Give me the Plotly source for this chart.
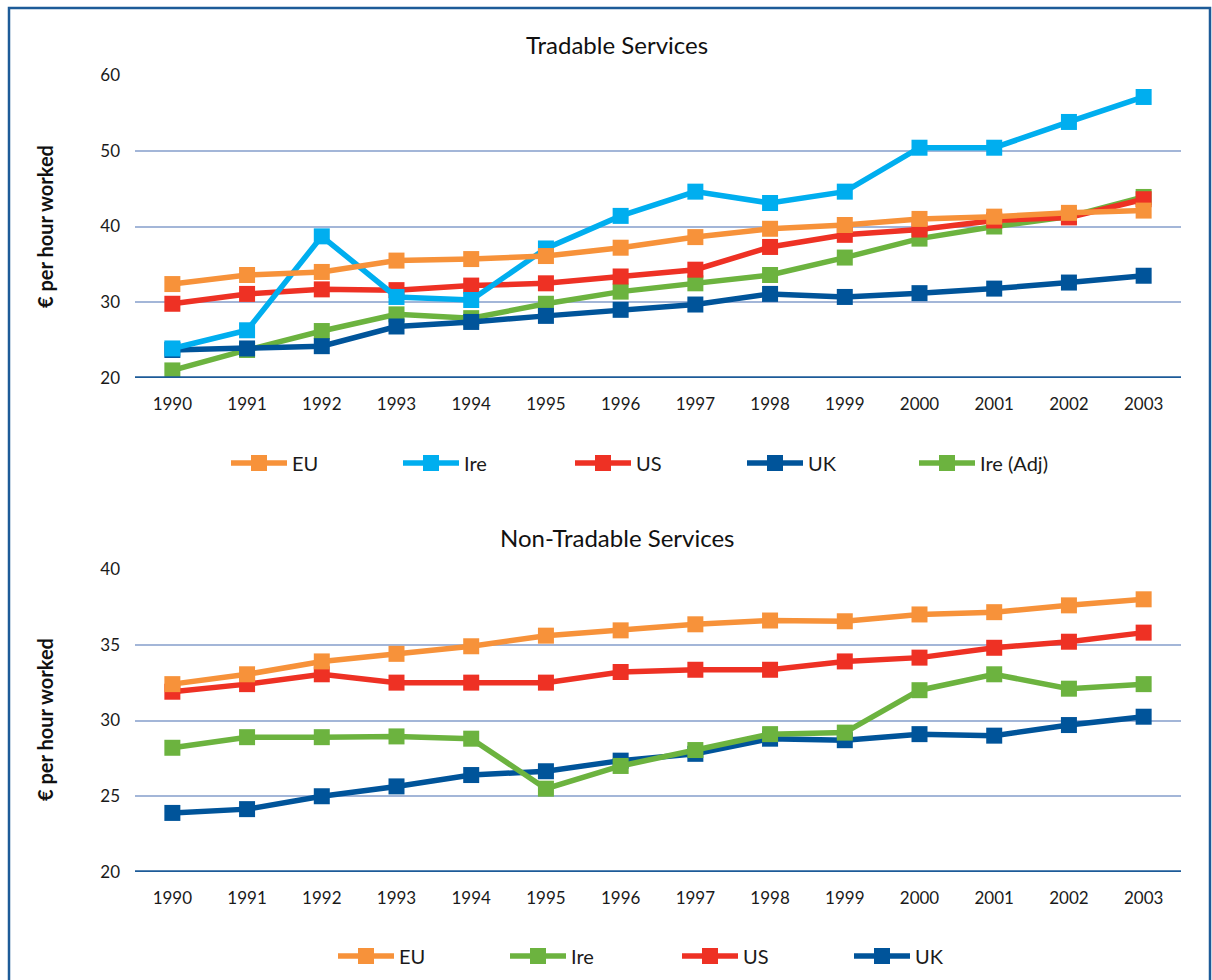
import plotly.graph_objects as go

years = list(range(1990, 2004))

# Tradable Services (€ per hour worked)
trad_eu = [32.4, 33.6, 34.0, 35.5, 35.7, 36.1, 37.2, 38.6, 39.7, 40.2, 41.0, 41.3, 41.8, 42.1]
trad_ire = [23.9, 26.3, 38.7, 30.7, 30.3, 37.1, 41.4, 44.6, 43.1, 44.6, 50.4, 50.4, 53.8, 57.1]
trad_us = [29.8, 31.1, 31.7, 31.6, 32.2, 32.5, 33.4, 34.3, 37.3, 38.9, 39.6, 40.8, 41.2, 43.6]
trad_uk = [23.7, 23.9, 24.2, 26.8, 27.4, 28.2, 29.0, 29.7, 31.1, 30.7, 31.2, 31.8, 32.6, 33.5]
trad_ire_adj = [21.0, 23.7, 26.2, 28.4, 27.9, 29.8, 31.4, 32.5, 33.6, 35.9, 38.4, 40.0, 41.3, 43.9]

# Non-Tradable Services (€ per hour worked)
non_eu = [32.4, 33.05, 33.9, 34.4, 34.9, 35.6, 35.95, 36.35, 36.6, 36.55, 37.0, 37.15, 37.6, 38.0]
non_ire = [28.2, 28.9, 28.9, 28.95, 28.8, 25.5, 27.0, 28.05, 29.1, 29.2, 32.0, 33.05, 32.1, 32.4]
non_us = [31.9, 32.4, 33.05, 32.5, 32.5, 32.5, 33.2, 33.35, 33.35, 33.9, 34.15, 34.8, 35.2, 35.8]
non_uk = [23.9, 24.15, 25.0, 25.65, 26.4, 26.65, 27.35, 27.8, 28.8, 28.7, 29.1, 29.0, 29.7, 30.25]

trad_ticks = [20, 30, 40, 50, 60]
non_ticks = [20, 25, 30, 35, 40]

C_EU = "#F7923A"
C_IRE = "#00AEEF"
C_US = "#EE3124"
C_UK = "#00549A"
C_ADJ = "#6CB33F"

FONT = "Lato"
W, H = 1212, 980


def px_x(p):
    return p / W


def px_y(p):
    return 1 - p / H


fig = go.Figure()


def add(x, y, name, color, xa, ya, legend):
    fig.add_trace(go.Scatter(
        x=x, y=y, name=name, mode="lines+markers",
        line=dict(color=color, width=5.5),
        marker=dict(symbol="square", size=16, color=color),
        xaxis=xa, yaxis=ya, legend=legend,
    ))


# top chart (drawing order bottom -> top)
add(years, trad_ire_adj, "Ire (Adj)", C_ADJ, "x", "y", "legend")
add(years, trad_uk, "UK", C_UK, "x", "y", "legend")
add(years, trad_us, "US", C_US, "x", "y", "legend")
add(years, trad_ire, "Ire", C_IRE, "x", "y", "legend")
add(years, trad_eu, "EU", C_EU, "x", "y", "legend")

# bottom chart
add(years, non_uk, "UK", C_UK, "x2", "y2", "legend2")
add(years, non_us, "US", C_US, "x2", "y2", "legend2")
add(years, non_ire, "Ire", C_ADJ, "x2", "y2", "legend2")
add(years, non_eu, "EU", C_EU, "x2", "y2", "legend2")

xdom = [px_x(135), px_x(1181)]
grid_col = "#A3B6D8"
axis_col = "#1D5B98"
TXT = "#1a1a1a"

xaxis_common = dict(
    domain=xdom, range=[1989.5, 2003.5], tickmode="array", tickvals=years,
    ticktext=[str(y) for y in years], showgrid=False, zeroline=False,
    showline=False, ticks="", tickfont=dict(family=FONT, size=17, color=TXT),
    ticklabelstandoff=14,
)

fig.update_layout(
    width=W, height=H,
    margin=dict(l=0, r=0, t=0, b=0, autoexpand=False),
    paper_bgcolor="white", plot_bgcolor="white",
    showlegend=True,
    xaxis=dict(**xaxis_common, anchor="y"),
    yaxis=dict(
        domain=[px_y(378), px_y(75)], range=[20, 60], tickmode="array",
        tickvals=trad_ticks, showgrid=True, gridcolor=grid_col, gridwidth=1.5,
        zeroline=False, showline=False, ticks="",
        tickfont=dict(family=FONT, size=17, color=TXT), ticklabelstandoff=14,
        anchor="x",
    ),
    xaxis2=dict(**xaxis_common, anchor="y2"),
    yaxis2=dict(
        domain=[px_y(872), px_y(569)], range=[20, 40], tickmode="array",
        tickvals=non_ticks, showgrid=True, gridcolor=grid_col, gridwidth=1.5,
        zeroline=False, showline=False, ticks="",
        tickfont=dict(family=FONT, size=17, color=TXT), ticklabelstandoff=14,
        anchor="x2",
    ),
    legend=dict(
        orientation="h", traceorder="reversed", x=px_x(226), xanchor="left",
        y=px_y(463), yanchor="middle", entrywidth=101, itemwidth=56,
        font=dict(family=FONT, size=20, color=TXT), bgcolor="rgba(0,0,0,0)",
    ),
    legend2=dict(
        orientation="h", traceorder="reversed", x=px_x(333), xanchor="left",
        y=px_y(956), yanchor="middle", entrywidth=101, itemwidth=56,
        font=dict(family=FONT, size=20, color=TXT), bgcolor="rgba(0,0,0,0)",
    ),
)

# axis baselines at 20
fig.add_shape(type="line", xref="paper", yref="y", x0=xdom[0], x1=xdom[1], y0=20, y1=20,
              line=dict(color=axis_col, width=3.5), layer="above")
fig.add_shape(type="line", xref="paper", yref="y2", x0=xdom[0], x1=xdom[1], y0=20, y1=20,
              line=dict(color=axis_col, width=3.5), layer="above")

# outer frame
fig.add_shape(type="rect", xref="paper", yref="paper", x0=px_x(9), x1=px_x(1210),
              y0=-0.05, y1=px_y(8), line=dict(color="#1D5B98", width=2.5))

# titles
fig.add_annotation(text="Tradable Services", xref="paper", yref="paper",
                   x=px_x(617), y=px_y(45), showarrow=False,
                   xanchor="center", yanchor="middle",
                   font=dict(family=FONT, size=24, color="#111"))
fig.add_annotation(text="Non-Tradable Services", xref="paper", yref="paper",
                   x=px_x(617), y=px_y(537), showarrow=False,
                   xanchor="center", yanchor="middle",
                   font=dict(family=FONT, size=24, color="#111"))

# y-axis titles
for yc in (px_y(227), px_y(720)):
    fig.add_annotation(text="<b>€ per hour worked</b>", xref="paper", yref="paper",
                       x=px_x(45), y=yc, showarrow=False, textangle=-90,
                       xanchor="center", yanchor="middle",
                       font=dict(family=FONT, size=20, color="#111"))

fig.write_html("out.html", config={"displayModeBar": False},
               post_script="document.body.style.margin='0px';")
